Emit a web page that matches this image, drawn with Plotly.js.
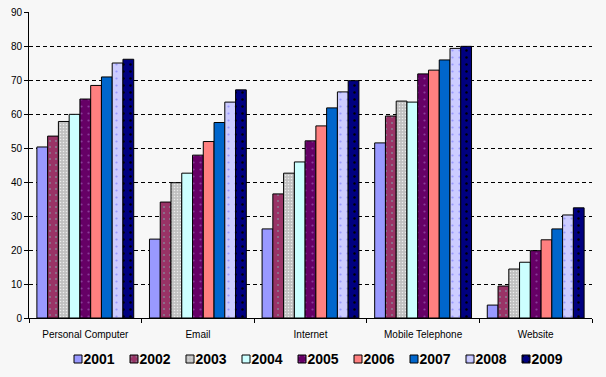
<!DOCTYPE html>
<html><head><meta charset="utf-8">
<script src="https://cdn.plot.ly/plotly-3.0.1.min.js"></script>
<style>html,body{margin:0;padding:0;background:#f7f7f7}</style>
</head><body>
<div id="chart" style="width:606px;height:377px"></div>
<script>
const categories = ["Personal Computer", "Email", "Internet", "Mobile Telephone", "Website"];
const years = ["2001", "2002", "2003", "2004", "2005", "2006", "2007", "2008", "2009"];
const v2001 = [50.3, 23.2, 26.2, 51.5, 3.8];
const v2002 = [53.5, 34.1, 36.5, 59.4, 9.4];
const v2003 = [57.8, 39.8, 42.6, 63.8, 14.4];
const v2004 = [59.9, 42.6, 45.9, 63.5, 16.4];
const v2005 = [64.4, 47.9, 52.1, 71.8, 19.8];
const v2006 = [68.4, 51.9, 56.5, 72.9, 23.0];
const v2007 = [70.9, 57.5, 61.8, 75.9, 26.2];
const v2008 = [75.0, 63.5, 66.5, 79.3, 30.3];
const v2009 = [76.1, 67.1, 69.8, 79.9, 32.4];
const yTicks = [0, 10, 20, 30, 40, 50, 60, 70, 80, 90];

const series = [v2001, v2002, v2003, v2004, v2005, v2006, v2007, v2008, v2009];
const colors = ["#9999ff", "#993366", "#c0c0c0", "#ccffff", "#660066", "#ff8080", "#0066cc", "#ccccff", "#000080"];
const patterns = [
  null,
  {shape: ".", fgcolor: "#8a7a90", size: 6, solidity: 0.1},
  {shape: ".", fgcolor: "#ececec", size: 3, solidity: 0.2},
  null,
  {shape: ".", fgcolor: "#8a3c9a", size: 7, solidity: 0.08},
  null,
  null,
  {shape: ".", fgcolor: "#9999ff", size: 7, solidity: 0.08},
  {shape: ".", fgcolor: "#000000", size: 7, solidity: 0.1}
];

const traces = series.map((vals, i) => {
  const m = {color: colors[i], line: {color: "#000000", width: 1}};
  if (patterns[i]) m.pattern = Object.assign({bgcolor: colors[i], fillmode: "replace"}, patterns[i]);
  return {type: "bar", name: years[i], x: categories, y: vals, marker: m};
});

const layout = {
  width: 606, height: 377,
  paper_bgcolor: "#f7f7f7", plot_bgcolor: "#f7f7f7",
  margin: {l: 29, r: 14, t: 12, b: 59, autoexpand: false},
  barmode: "group", bargap: 0.14, bargroupgap: 0,
  font: {family: "Liberation Sans, Arial, sans-serif", size: 10, color: "#000000"},
  xaxis: {
    showline: true, linecolor: "#000000", linewidth: 1,
    ticks: "outside", tickson: "boundaries", ticklen: 4, tickcolor: "#000000",
    ticklabelstandoff: 7,
    showgrid: false, tickfont: {size: 10}, fixedrange: true
  },
  yaxis: {
    range: [0, 90], tickvals: yTicks, ticktext: yTicks.map(String),
    showline: true, linecolor: "#000000", linewidth: 1,
    ticks: "outside", ticklen: 4, tickcolor: "#000000",
    showgrid: true, gridcolor: "#000000", griddash: "4px,3px", gridwidth: 1,
    zeroline: false, tickfont: {size: 10}, fixedrange: true
  },
  showlegend: true,
  legend: {
    orientation: "h", x: 0.018, xanchor: "left", y: -0.134, yanchor: "middle",
    font: {family: "Liberation Sans, Arial, sans-serif", size: 14, color: "#000000", weight: "bold"},
    itemwidth: 30, traceorder: "normal", bgcolor: "rgba(0,0,0,0)"
  }
};

// compact one-row legend layout (like the original): symbol pitch and row position
const legendFirstSymbolLeft = 74, legendPitch = 56, legendCenterY = 359, legendSymbolHalf = 4;

Plotly.newPlot("chart", traces, layout, {displayModeBar: false, staticPlot: true}).then(gd => {
  const sb = gd.querySelector("g.legend .scrollbox");
  if (sb) sb.removeAttribute("clip-path");
  const items = gd.querySelectorAll("g.legend g.traces");
  items.forEach((g, i) => {
    const path = g.querySelector(".legendpoints path");
    const text = g.querySelector("text.legendtext");
    if (!path) return;
    const pm = /translate\(\s*([-\d.]+)[ ,]+([-\d.]+)?/.exec(path.getAttribute("transform") || "");
    const pcx = pm ? parseFloat(pm[1]) : 0;
    path.setAttribute("d", `M${legendSymbolHalf},${legendSymbolHalf}H-${legendSymbolHalf}V-${legendSymbolHalf}H${legendSymbolHalf}Z`);
    if (text) text.setAttribute("x", pcx + legendSymbolHalf + 1.5);
    const r = path.getBoundingClientRect();
    const cx = r.left + r.width / 2, cy = r.top + r.height / 2;
    const tx = legendFirstSymbolLeft + legendSymbolHalf + i * legendPitch;
    const gm = /translate\(\s*([-\d.]+)[ ,]+([-\d.]+)/.exec(g.getAttribute("transform") || "translate(0,0)");
    const gx = gm ? parseFloat(gm[1]) : 0, gy = gm ? parseFloat(gm[2]) : 0;
    g.setAttribute("transform", `translate(${gx + tx - cx},${gy + legendCenterY - cy})`);
  });
});
</script>
</body></html>
